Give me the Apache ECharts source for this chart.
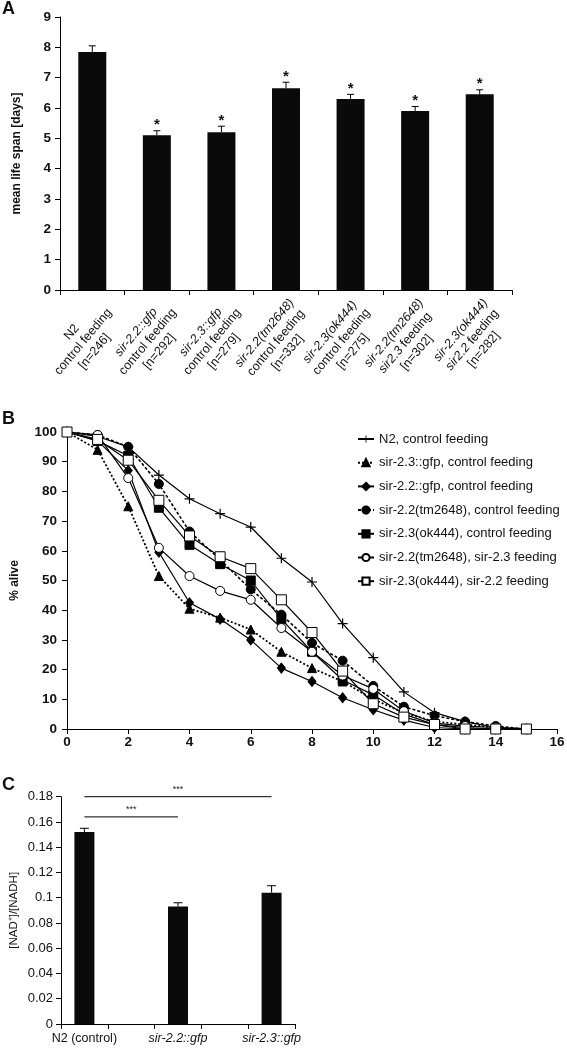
<!DOCTYPE html>
<html><head><meta charset="utf-8">
<script src="https://cdn.jsdelivr.net/npm/echarts@6/dist/echarts.min.js"></script>
<style>html,body{margin:0;padding:0;background:#fff}#c{width:567px;height:1050px}</style>
</head><body><div id="c"></div>
<script>
// ---------- Panel A data ----------
const catA = ['N2\ncontrol feeding\n[n=246]', 'sir-2.2::gfp\ncontrol feeding\n[n=292]', 'sir-2.3::gfp\ncontrol feeding\n[n=279]',
  'sir-2.2(tm2648)\ncontrol feeding\n[n=332]', 'sir-2.3(ok444)\ncontrol feeding\n[n=275]',
  'sir-2.2(tm2648)\nsir2.3 feeding\n[n=302]', 'sir-2.3(ok444)\nsir2.2 feeding\n[n=282]'];
const meanA = [7.85, 5.1, 5.2, 6.65, 6.3, 5.9, 6.45];
const errA = [0.2, 0.15, 0.2, 0.2, 0.15, 0.15, 0.15];
const sigA = ['', '*', '*', '*', '*', '*', '*'];

// ---------- Panel B data ----------
const days = [0, 1, 2, 3, 4, 5, 6, 7, 8, 9, 10, 11, 12, 13, 14, 15];
const namesB = ['N2, control feeding', 'sir-2.3::gfp, control feeding', 'sir-2.2::gfp, control feeding',
  'sir-2.2(tm2648), control feeding', 'sir-2.3(ok444), control feeding',
  'sir-2.2(tm2648), sir-2.3 feeding', 'sir-2.3(ok444), sir-2.2 feeding'];
const n2Ctrl   = [100, 98.5, 95, 85.5, 77.5, 72.5, 68, 57.5, 49.5, 35.5, 24, 12.5, 5.5, 2.5, 0.5, 0];
const gfp23    = [100, 94, 75, 51.5, 40.5, 37.5, 33.5, 26, 20.5, 16, 10, 5.5, 2.5, 1.5, 0.5, 0];
const gfp22    = [100, 97, 87, 59.5, 42.5, 37, 30, 20.5, 16, 10.5, 6.5, 3, 0.5, 0, 0, 0];
const tmCtrl   = [100, 99, 95, 82.5, 66.5, 57, 47, 38.5, 29, 23, 14.5, 7.5, 4.5, 2.5, 1, 0];
const okCtrl   = [100, 97, 92, 74.5, 62, 55.5, 50, 37, 26, 16.5, 11.5, 5, 1.5, 0.5, 0, 0];
const tmFeed23 = [100, 99, 84.5, 61, 51.5, 46.5, 43.5, 34, 26, 18, 13.5, 6, 2, 1, 0.5, 0];
const okFeed22 = [100, 97.5, 90.5, 77, 65, 58, 54, 43.5, 32.5, 19.5, 8.5, 4, 1.5, 0, 0, 0];

// ---------- Panel C data ----------
const catC = ['N2 (control)', '', 'sir-2.2::gfp', '', 'sir-2.3::gfp'];
const ratioC = [0.152, null, 0.093, null, 0.104];
const errC = [0.003, null, 0.003, null, 0.0055];
const sigC = [[0, 2, 0.164, '***'], [0, 4, 0.18, '***']];

const FONT = '"Liberation Sans", Arial, sans-serif';
const chart = echarts.init(document.getElementById('c'), null, {renderer: 'canvas'});

function richLabel(v) {
  return v.split('\n').map(function (line) {
    const m = line.match(/^(sir\S*)(.*)$/);
    if (m) return '{i|' + m[1] + '}' + (m[2] ? '{n|' + m[2] + '}' : '');
    return line ? '{n|' + line + '}' : '';
  }).join('\n');
}

function errRender(capHalf, sigFont, sigs) {
  return function (params, api) {
    const x = api.value(0), y0 = api.value(1), y1 = api.value(2);
    const p0 = api.coord([x, y0]), p1 = api.coord([x, y1]);
    const kids = [
      {type: 'line', shape: {x1: p0[0], y1: p0[1], x2: p1[0], y2: p1[1]}, style: {stroke: '#000', lineWidth: 1}},
      {type: 'line', shape: {x1: p1[0] - capHalf, y1: p1[1], x2: p1[0] + capHalf, y2: p1[1]}, style: {stroke: '#000', lineWidth: 1}}
    ];
    if (sigs && sigs[params.dataIndex]) {
      kids.push({type: 'text', style: {text: sigs[params.dataIndex], x: p1[0], y: p1[1] - 13,
        align: 'center', verticalAlign: 'top', textAlign: 'center', textVerticalAlign: 'top', font: sigFont, fill: '#111'}});
    }
    return {type: 'group', children: kids};
  };
}

function sigRender(params, api) {
  const a = api.coord([api.value(0), api.value(2)]);
  const b = api.coord([api.value(1), api.value(2)]);
  const t = sigC[params.dataIndex][3];
  return {type: 'group', children: [
    {type: 'line', shape: {x1: a[0], y1: a[1], x2: b[0], y2: b[1]}, style: {stroke: '#000', lineWidth: 1}},
    {type: 'text', style: {text: t, x: (a[0] + b[0]) / 2, y: a[1] - 12, align: 'center', verticalAlign: 'top',
      textAlign: 'center', textVerticalAlign: 'top', font: '9px ' + FONT, fill: '#222'}}
  ]};
}

const crossPath = 'path://M4.4,0H5.6V4.4H10V5.6H5.6V10H4.4V5.6H0V4.4H4.4Z';
const axisLineStyle = {show: true, lineStyle: {color: '#000', width: 1}};
const tickStyle = {show: true, length: 5, lineStyle: {color: '#000', width: 1}};

function lineSeries(name, data, symbol, size, fill, lineType, lineWidth) {
  return {
    name: name, type: 'line', xAxisIndex: 1, yAxisIndex: 1,
    data: days.map(function (d, i) { return [d, data[i]]; }),
    symbol: symbol, symbolSize: size, showSymbol: true,
    lineStyle: {color: '#000', width: lineWidth || 1.2, type: lineType || 'solid'},
    itemStyle: {color: fill, borderColor: '#000', borderWidth: symbol === crossPath ? 0 : 1},
    emphasis: {disabled: true}
  };
}

const option = {
  animation: false,
  backgroundColor: '#fff',
  textStyle: {fontFamily: FONT},
  grid: [
    {left: 60, top: 17, width: 452, height: 273, outerBoundsMode: 'none'},
    {left: 67, top: 432, width: 490, height: 297, outerBoundsMode: 'none'},
    {left: 61, top: 796.7, width: 234, height: 227.3, outerBoundsMode: 'none'}
  ],
  legend: {
    data: namesB, orient: 'vertical', left: 352, top: 427,
    itemWidth: 16, itemHeight: 9, itemGap: 9.7,
    textStyle: {fontSize: 13, lineHeight: 14, color: '#111', fontFamily: FONT},
    selectedMode: false
  },
  xAxis: [
    {type: 'category', gridIndex: 0, data: catA,
      axisLine: axisLineStyle, axisTick: tickStyle,
      axisLabel: {interval: 0, rotate: 50, align: 'right', verticalAlign: 'top', margin: 6,
        formatter: richLabel, color: '#111',
        rich: {n: {fontSize: 12.5, lineHeight: 15, align: 'center', fontFamily: FONT, color: '#111'},
               i: {fontSize: 12.5, lineHeight: 15, align: 'center', fontStyle: 'italic', fontFamily: FONT, color: '#111'}}}},
    {type: 'value', gridIndex: 1, min: 0, max: 16, interval: 2,
      axisLine: axisLineStyle, axisTick: tickStyle, splitLine: {show: false},
      axisLabel: {fontSize: 13.5, fontWeight: 'bold', color: '#111', margin: 6}},
    {type: 'category', gridIndex: 2, data: catC,
      axisLine: axisLineStyle, axisTick: tickStyle,
      axisLabel: {interval: 0, margin: 8, formatter: richLabel,
        rich: {n: {fontSize: 12.5, fontFamily: FONT, color: '#111'},
               i: {fontSize: 12.5, fontStyle: 'italic', fontFamily: FONT, color: '#111'}}}}
  ],
  yAxis: [
    {type: 'value', gridIndex: 0, min: 0, max: 9, interval: 1,
      axisLine: axisLineStyle, axisTick: tickStyle, splitLine: {show: false},
      axisLabel: {fontSize: 13.5, fontWeight: 'bold', color: '#111', margin: 9},
      name: 'mean life span [days]', nameLocation: 'middle', nameGap: 37,
      nameTextStyle: {fontSize: 12, fontWeight: 'bold', color: '#111'}},
    {type: 'value', gridIndex: 1, min: 0, max: 100, interval: 10,
      axisLine: axisLineStyle, axisTick: tickStyle, splitLine: {show: false},
      axisLabel: {fontSize: 13.5, fontWeight: 'bold', color: '#111', margin: 10},
      name: '% alive', nameLocation: 'middle', nameGap: 46,
      nameTextStyle: {fontSize: 12, fontWeight: 'bold', color: '#111'}},
    {type: 'value', gridIndex: 2, min: 0, max: 0.18, interval: 0.02,
      axisLine: axisLineStyle, axisTick: tickStyle, splitLine: {show: false},
      axisLabel: {fontSize: 13, color: '#111', margin: 8},
      name: '[NAD\u207A]/[NADH]', nameLocation: 'middle', nameGap: 41,
      nameTextStyle: {fontSize: 11.5, color: '#111'}}
  ],
  graphic: [
    {type: 'text', left: 2, top: 0, style: {text: 'A', font: 'bold 18px ' + FONT, fill: '#111'}},
    {type: 'text', left: 2, top: 410, style: {text: 'B', font: 'bold 18px ' + FONT, fill: '#111'}},
    {type: 'text', left: 2, top: 776, style: {text: 'C', font: 'bold 18px ' + FONT, fill: '#111'}}
  ],
  series: [
    {type: 'bar', xAxisIndex: 0, yAxisIndex: 0, data: meanA, barWidth: 28,
      itemStyle: {color: '#0a0a0a'}, emphasis: {disabled: true}},
    {type: 'custom', xAxisIndex: 0, yAxisIndex: 0, z: 5,
      data: meanA.map(function (m, i) { return [i, m, m + errA[i]]; }),
      renderItem: errRender(3.5, 'bold 15px ' + FONT, sigA)},
    lineSeries(namesB[0], n2Ctrl, crossPath, 10, '#000'),
    lineSeries(namesB[1], gfp23, 'triangle', 9, '#000', [2, 2], 1.8),
    lineSeries(namesB[2], gfp22, 'diamond', [8, 10], '#000'),
    lineSeries(namesB[3], tmCtrl, 'circle', 9, '#000', [3, 2], 1.6),
    lineSeries(namesB[4], okCtrl, 'rect', 9, '#000'),
    lineSeries(namesB[5], tmFeed23, 'circle', 9, '#fff'),
    lineSeries(namesB[6], okFeed22, 'rect', 10, '#fff'),
    {type: 'bar', xAxisIndex: 2, yAxisIndex: 2, data: ratioC, barWidth: 20,
      itemStyle: {color: '#0a0a0a'}, emphasis: {disabled: true}},
    {type: 'custom', xAxisIndex: 2, yAxisIndex: 2, z: 5,
      data: ratioC.map(function (m, i) { return m == null ? null : [i, m, m + errC[i]]; }).filter(function (d) { return d; }),
      renderItem: errRender(4.5, null, null)},
    {type: 'custom', xAxisIndex: 2, yAxisIndex: 2, z: 5, clip: false,
      data: sigC.map(function (s) { return [s[0], s[1], s[2]]; }),
      renderItem: sigRender}
  ]
};
chart.setOption(option);
</script></body></html>
